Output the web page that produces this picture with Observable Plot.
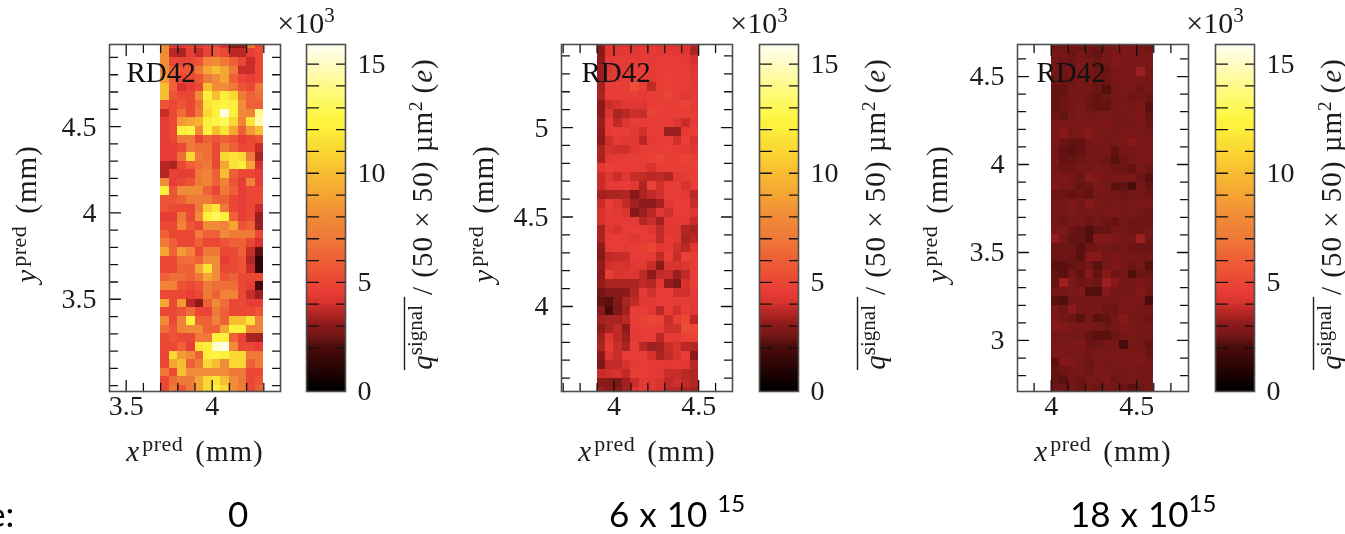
<!DOCTYPE html>
<html><head><meta charset="utf-8">
<script src="https://cdn.jsdelivr.net/npm/d3@7"></script>
<script src="https://cdn.jsdelivr.net/npm/@observablehq/plot@0.6"></script>
<style>
html,body{margin:0;padding:0;background:#fff;width:1345px;height:534px;overflow:hidden}
#page{position:relative;width:1345px;height:534px;overflow:hidden;filter:blur(0.7px)}
#page svg{position:absolute;top:0;overflow:visible;background:transparent}
.fl{position:absolute;font-family:Lato,"Noto Sans",sans-serif;font-size:35px;word-spacing:1px;color:#000;white-space:nowrap;line-height:40px;top:493px}
.fl sup{font-size:24px;line-height:0;position:relative;top:-2px;vertical-align:super}
</style></head><body><div id="page"></div>
<script>
const fluence = ["0", "6 x 10 <sup>15</sup>", "18 x 10<sup>15</sup>"];
const colorStops = [0,1,2,2.5,3,4,4.5,5,6,7,8,9,10,11,12,12.5,13,14,15,16];
const colorRange = ["#000000","#280303","#4b0c0c","#741716","#8c1a1a","#d7322d","#e83c37","#ea4834","#ee6036","#ef7a37","#f08c37","#f5a532","#f8be32","#fad732","#fcf03c","#fdf541","#fef85a","#fffa8c","#fffcc8","#fffffa"];
const colorTicks = [0,5,10,15];
const colorMinor = [1,2,3,4,5,6,7,8,9,10,11,12,13,14,15];

const panel1Values = [
[8,4.5,4.5,5,4.5,5,5,4,3,3,7,5],
[8,3.6,3.4,4.5,3.8,4.8,5.5,5,3.6,3.6,4.5,5],
[8,5,4.8,5,5.5,7.5,8,7,6,5,3.8,5],
[8,6,5.5,5.5,7,9,10,9,7,3.8,3.8,5],
[8.5,6,5,5,5.5,7,8,9,6,5,4.5,5],
[10,6,4,4.5,5,10,8,8,7,5.5,5,7],
[10,5.5,5,5,8,12,10,12,11,7,6,6.5],
[5.5,5,5.5,5,6.5,11.5,12,12.5,12,8,6,6],
[3.8,5,6.5,5,7,11,12,15.5,12,8,7.5,14],
[4.5,5,8.5,9,9.5,12,12.5,13,11,7.5,11.5,14.5],
[4.5,5,12,12.5,8,12,10,11.5,9,6,8.5,10],
[4.5,5,7,7,4.8,6,5.5,6,5.5,4.5,5,5.5],
[4.5,4.5,5,7,6.5,6.5,5,7,6,5,5,3.8],
[4.5,4.5,6.5,11,7,6.5,5,11,11.5,11,7,3.4],
[3.6,3.4,5,6,6.5,7,5,9,11.5,12,9,4],
[3.5,4.8,4.5,4.5,7,7.5,6,10,6,5,5,4.5],
[8,4.5,5,5.5,7,7.5,6,7.5,5.5,4.5,7.5,4.5],
[12,5.5,8,8,8,6,4.8,7,6,4.5,5,5],
[5.5,5.5,6,7,7,7,6,6,5,4.5,5,5],
[5.5,5,5,5,7,10.5,11.5,7,5,4.5,5,3.8],
[4.5,4.5,7,5,8,12,13,12,6,4.5,5,3.2],
[5,5,7.5,5.5,5,8,8,7.5,9,5.5,6,3.2],
[6,5,5,5,7,6,6,8,7,7,7,5],
[7,6,5,5,6,5,5,5.5,6,6,5,4],
[9,6,8.5,7.5,5,7,7,5,5,6,3.8,2.2],
[5,5,6.5,6.5,6,8,8,4.5,5,5.5,3.5,1.2],
[5,5,6,6,9,11.5,8,5,5,5.5,3.8,1.3],
[6,6.5,6.5,6,7,9,8,5.5,6,5,5,5],
[7.5,7.5,5.5,5,5.5,7,6.5,6.5,6.5,5,4.5,1.8],
[5,5,5,4.5,5,7,6,7.5,7.5,5,3.8,3.2],
[9,5,8.5,3.6,3,6,8,6.5,5,5,4.5,4.5],
[5,5,5.5,6.5,5,4.8,7,6,5,5,5,5.5],
[8,5,7.5,12,6,6,7.5,6,10,10,11.5,7.5],
[6.5,5.5,7.5,8,8,6,6,9,12,12,7.5,7.5],
[5,5.5,5,5,7,7,12,12,6,4.8,3.4,3.3],
[5,5,6,4.5,11.5,12,15,15.5,8,5,5,4.5],
[4.8,11,8.5,8,6,12,12.5,12,11,11,7,7],
[5,9,10,6,7,11,10,8,11,11,6,7],
[7,5,10,8,8,8,8,8,7,7,5,5],
[5,6.5,7,7,9,11,11.5,10,8,7,5,5.5],
[5,7,5.5,7,9,11,12,11,8,7,5,6]];

const panel2Values = [
[3,4.2,4.2,4.2,4.2,4.2,4.2,4.2,4.2,4.2,4.2,3.5],
[3,4.2,4.3,4.3,4.3,4.4,4.4,4.3,4.3,4.3,4.2,3.4],
[3,4.4,4.5,4.4,4.4,4.4,4.4,4.5,4.5,4.5,4.4,4],
[3.2,4.2,4.4,4.4,4.5,4.5,4.4,4.5,4.5,4.5,4.5,4.2],
[3.2,4.3,4.3,4.4,4.6,4.7,4.4,4.5,4.6,4.5,4.5,4.3],
[3.3,4.5,4.6,4.5,5.3,4.5,3.7,4.6,4.7,4.5,4.5,4.4],
[3.4,4.5,4.6,4.5,4.5,4.4,4.5,4.5,4.9,4.5,4.3,4.4],
[3,3.8,4,4.3,4.3,4.2,4.6,4.6,4.5,4.5,4.8,4.4],
[3,4.2,3.4,3.6,3.9,3.8,4.8,4.6,4.5,4.6,4.6,4.5],
[3.2,4.4,3.7,4.2,4.5,4.4,4.5,4.5,4.5,4.2,3.8,4.4],
[3.1,4.4,4.6,4.5,4.3,3.9,4.5,4.5,3.2,3.2,4.4,4.5],
[3,3.9,4.4,4.3,4.3,3.6,4.4,4.5,4.5,3.9,4.6,4.1],
[3.4,4,3.9,3.9,4.3,4.5,4.6,4.5,4.6,4.4,4.4,4.3],
[3.4,4.3,4.4,4.5,4.5,4.5,4.7,4.9,4.5,4.6,4.8,4.6],
[4.3,4.6,4.5,4.5,4.5,4.4,4,4.5,4.6,4.5,4.6,4.6],
[3.8,4.2,3.8,4.3,3.8,3.7,3.6,3.7,3.5,4.3,4.4,4.5],
[3.8,4.4,4.4,4.5,4.3,3.4,4.7,3.9,4.5,4.5,4,4.5],
[3.3,3.4,3.4,3.5,2.9,3.4,3.7,3.9,4.5,4.5,4.3,3.6],
[3.8,4.5,4.2,3.7,3.3,3,3,3.3,4.3,4.5,4.5,3.8],
[4,4.4,4.3,4.1,2.9,3.2,3.6,4.3,3.9,4.5,4.5,4.2],
[4,4.4,4.4,4.4,4.4,3.5,3.8,3.3,4.3,4.4,4.3,3.8],
[3.4,4.3,4,4.4,4.5,4.5,4.2,3.7,4.3,4.3,3.5,3.4],
[3.4,4.4,4.4,4.4,4.2,4.4,4.4,3.7,4.4,4.3,3.4,3.6],
[3,4.4,4.5,4.4,4.5,4.6,4.9,4.3,4.4,3.9,3.6,4.2],
[2.9,3.7,3.8,3.8,4.4,4.5,4.4,3.7,4.6,3.8,4.7,4.6],
[3.1,3.9,4,4,4.3,4.3,3.8,3,4.1,4.1,4.2,4.5],
[3,4.6,4.1,4.2,4.2,3.7,3,3.7,3.8,3.2,3.7,4.5],
[3.1,3.4,3.4,3.4,3.4,3.7,3.5,4.3,3.1,2.7,4,4.5],
[2.5,2.9,2.9,3,3.5,4.4,3.9,4.5,4.5,3.9,3.9,4.4],
[2.3,2.2,2.8,3.4,3.7,4.3,4.3,4.5,4.5,4.4,4.5,4.4],
[2.9,1.9,2.7,3.3,4.5,4.5,4.3,3.6,4.5,3.9,4.5,4.3],
[3.3,3.4,3.4,3.6,4.5,4.6,5,4.7,3.8,4.6,5,3.6],
[3,3.4,3.7,3,4.4,4.5,4.6,4.5,3.9,3.9,5.2,5],
[3.3,4.2,3.7,3.2,4.4,4.4,4.5,3.6,4.4,4.4,4.6,4.7],
[3.4,4.4,3.8,3.4,4.5,3.6,3.2,3.3,3.8,4.1,3.6,3.5],
[3,4.2,3.8,4.4,4.5,4.5,4,3.4,3.7,4,4.5,3],
[2.7,3.7,3.7,4,4.4,4.5,4.4,4.4,4.3,4.4,4.3,3.6],
[3.8,3.9,4,3.7,4.5,4.5,4.4,4.3,3.8,3.8,3.6,3.5],
[3,2.9,2.7,3.3,3.8,4.4,4.3,4.1,3.7,3.9,3.7,3.5],
[3.2,3,2.9,3.3,4.2,4.4,4.2,4,3.6,3.6,3.4,3.3]];

const panel3Values = [
[2.4,2.5,2.5,2.4,2.4,2.4,2.5,2.6,2.6,2.6,2.5,2.4],
[2.5,2.5,2.4,2.5,2.4,2.3,2.5,2.7,2.7,2.6,2.6,2.5],
[2.5,2.4,2.4,2.6,2.5,2.4,2.5,2.8,2.6,2.6,2.6,2.6],
[2.5,2.4,2.5,2.6,2.5,2.4,2.4,2.6,2.7,2.6,3.2,2.6],
[2.4,2.4,2.4,2.5,2.5,2.4,2.4,2.5,2.6,2.6,2.6,2.5],
[2.3,2.3,2.5,2.5,2.5,2.4,2.1,2.5,2.6,2.5,2.4,2.5],
[2.3,2.4,2.5,2.5,2.4,2.3,2.4,2.5,2.5,2.4,2.5,2.4],
[2.3,2.4,2.5,2.6,2.4,2.3,2.3,2.5,2.6,2.5,2.7,2.2],
[2.4,2.3,2.5,2.6,2.5,2.6,2.6,2.5,2.5,2.6,2.7,2.3],
[2.6,2.6,2.6,2.6,2.7,2.7,2.7,2.5,2.5,2.5,2.7,2.4],
[2.6,2.9,2.5,2.6,2.9,2.6,2.6,2.5,2.6,2.6,2.6,2.5],
[2.6,2.4,2.3,2.3,2.5,2.6,2.5,2.6,2.6,2.9,2.6,2.6],
[2.5,2.3,2.2,2.3,2.5,2.5,2.6,2.3,2.5,2.6,2.6,2.6],
[2.6,2.3,2.3,2.4,2.5,2.5,2.4,2.2,2.4,2.5,2.6,2.6],
[2.5,2.4,2.4,2.5,2.5,2.6,2.5,2.4,2.4,2.3,2.5,2.4],
[2.6,2.7,2.5,2.4,2.9,2.7,2.5,2.6,2.6,2.6,2.4,2.2],
[2.8,2.5,2.5,2.3,2.4,2.6,2.5,2.2,2.3,1.9,2.5,2.3],
[2.4,2.4,2.3,2.4,2.3,2.5,2.5,2.5,2.4,2.5,2.5,2.4],
[2.5,2.5,2.6,2.5,2.9,2.6,2.5,2.6,2.5,2.6,2.6,2.6],
[2.5,2.5,2.6,2.5,2.6,2.5,2.6,2.6,2.5,2.6,2.5,2.4],
[2.5,2.4,2.5,2.5,2.4,2.5,2.4,2.3,2.5,2.4,2.4,2.4],
[2.6,2.6,2.4,2.3,2.1,2.3,2.3,2.5,2.5,2.4,2.4,2.5],
[3.1,2.5,2.3,2.3,2.1,2.8,2.8,2.6,2.5,2.5,3.2,2.5],
[2.4,2.4,2.4,2.2,2.4,2.5,2.5,2.4,2.5,2.4,2.4,2.4],
[2.4,2.4,2.4,2.2,2.9,2.9,2.5,2.7,2.5,2.5,2.5,2.5],
[2.2,2.2,2.3,2.4,2.5,2.2,2.5,2.8,2.5,2.4,2.5,2.2],
[2.3,2.2,2.5,2.3,2.9,2.3,2.9,2.4,2.5,2.1,2.4,2.4],
[2.3,3.2,2.6,2.4,2.5,2.4,3.2,2.9,2.5,2.5,2.7,2.5],
[2.5,2.5,2.7,2.7,2.1,2.1,2.8,2.5,2.5,2.5,2.8,2.5],
[2.2,2.1,2.5,2.5,2.5,2.5,2.5,2.5,2.7,2.6,2.6,2],
[2.6,2.4,3,2.5,2.5,2.5,2.4,2.4,2.6,2.6,2.5,2.5],
[2.7,2.5,2.4,2.2,2.5,2.2,2.3,2.5,2.9,2.5,2.5,2.4],
[2.9,2.8,2.6,2.5,2.6,2.5,2.4,2.5,2.7,2.6,2.5,2.5],
[2.5,2.5,2.5,2.5,2.3,2.2,2.2,2.4,2.5,2.6,2.5,2.5],
[2.6,2.6,2.6,2.7,2.4,2.4,2.5,2.5,1.9,2.5,2.5,2.3],
[2.6,2.6,2.6,2.6,2.5,2.6,2.6,2.6,2.6,2.6,2.6,2.4],
[2.2,2.8,2.8,2.5,2.4,2.6,2.5,2.6,2.6,2.6,2.7,2.5],
[2.3,2.4,2.5,2.5,2.4,2.6,2.6,2.5,2.5,2.6,2.5,2.5],
[2.3,2.2,2.5,2.4,2.6,2.5,2.6,2.4,2.5,2.6,2.5,2.5],
[2.4,2.4,2.5,2.4,2.5,2.4,2.5,2.5,2.4,2.2,2.4,2.5]];

const panels = [
 {values:panel1Values,x0:3.7,yTop:5.0,xd:[3.403,4.397],yd:[2.966,4.975],xTicks:[3.5,4],yTicks:[3.5,4,4.5],
  xMinor:[3.5,3.6,3.7,3.8,3.9,4,4.1,4.2,4.3],yMinor:[3,3.1,3.2,3.3,3.4,3.5,3.6,3.7,3.8,3.9,4,4.1,4.2,4.3,4.4,4.5,4.6,4.7,4.8,4.9],
  left:109,bar:306,yLab:35,rd:126},
 {values:panel2Values,x0:3.9,yTop:5.5,xd:[3.69,4.70],yd:[3.525,5.464],xTicks:[4,4.5],yTicks:[4,4.5,5],
  xMinor:[3.7,3.8,3.9,4,4.1,4.2,4.3,4.4,4.5,4.6],yMinor:[3.6,3.7,3.8,3.9,4,4.1,4.2,4.3,4.4,4.5,4.6,4.7,4.8,4.9,5,5.1,5.2,5.3,5.4],
  left:561,bar:759,yLab:492,rd:581},
 {values:panel3Values,x0:4.0,yTop:4.7,xd:[3.803,4.803],yd:[2.71,4.682],xTicks:[4,4.5],yTicks:[3,3.5,4,4.5],
  xMinor:[3.9,4,4.1,4.2,4.3,4.4,4.5,4.6,4.7],yMinor:[2.8,2.9,3,3.1,3.2,3.3,3.4,3.5,3.6,3.7,3.8,3.9,4,4.1,4.2,4.3,4.4,4.5,4.6],
  left:1017,bar:1215,yLab:946,rd:1036}
];
const tickShape = {draw(c,l){c.moveTo(0,0);c.lineTo(0,-l);},r:0};
const serif = '"Liberation Serif","DejaVu Serif",serif';
const rich = {
 "xlab":'<tspan font-style="italic">x</tspan><tspan dx="3" dy="-10" font-size="22" letter-spacing="0.5">pred</tspan><tspan dx="12" dy="10" letter-spacing="1">(mm)</tspan>',
 "ylab":'<tspan font-style="italic">y</tspan><tspan dx="3" dy="-10" font-size="22" letter-spacing="0.5">pred</tspan><tspan dx="12" dy="10" letter-spacing="1">(mm)</tspan>',
 "qlab":'<tspan font-style="italic">q</tspan><tspan dy="-10" font-size="21">signal</tspan><tspan dy="10" dx="10" letter-spacing="1">/ (50 × 50) µm</tspan><tspan dy="-10" font-size="19">2</tspan><tspan dy="10" dx="8" letter-spacing="1">(<tspan font-style="italic">e</tspan>)</tspan>',
 "x103":'×10<tspan dy="-11" font-size="21">3</tspan>'
};
const page = document.getElementById("page");
function mount(svg,left){
  for(const t of svg.querySelectorAll("text")){const k=t.textContent.trim();if(rich[k])t.innerHTML=rich[k];}
  svg.style.left=left+"px";page.appendChild(svg);
}
const colorScale={type:"linear",domain:colorStops,range:colorRange,clamp:true};
const frameColor="#4f4f4f",tickColor="#111",ink="#1c1c1c";
for(const p of panels){
  const cells=[];
  p.values.forEach((row,r)=>row.forEach((v,c)=>cells.push({x1:p.x0+c*0.05,x2:p.x0+(c+1)*0.05,y1:p.yTop-r*0.05,y2:p.yTop-(r+1)*0.05,v})));
  const ml=100,w=171+ml+5,h=534;
  const vec=(data,o,len)=>Plot.vector(data,{...o,length:d=>len(d),shape:tickShape,anchor:"start",stroke:tickColor,strokeWidth:1.3,clip:false});
  const maj=(ts)=>(d)=>ts.includes(d)?11:8;
  const heat=Plot.plot({width:w,height:h,marginLeft:ml,marginRight:5,marginTop:44,marginBottom:143,
    x:{domain:p.xd},y:{domain:p.yd},color:colorScale,length:{type:"identity"},
    style:{fontFamily:serif,fontSize:"28px",color:ink,overflow:"visible"},
    marks:[
     Plot.rect(cells,{x1:"x1",x2:"x2",y1:"y1",y2:"y2",fill:"v",clip:"frame",shapeRendering:"crispEdges"}),
     vec(p.xMinor,{x:d=>d,frameAnchor:"bottom",rotate:0},maj(p.xTicks)),
     vec(p.xMinor,{x:d=>d,frameAnchor:"top",rotate:180},maj(p.xTicks)),
     vec(p.yMinor,{y:d=>d,frameAnchor:"left",rotate:90},maj(p.yTicks)),
     vec(p.yMinor,{y:d=>d,frameAnchor:"right",rotate:-90},maj(p.yTicks)),
     Plot.frame({stroke:frameColor,strokeWidth:1.6}),
     Plot.axisX({ticks:p.xTicks,tickFormat:d=>String(d),tickSize:0,tickPadding:4,label:null,fontSize:28,anchor:"bottom"}),
     Plot.axisY({ticks:p.yTicks,tickFormat:d=>String(d),tickSize:0,tickPadding:13,label:null,fontSize:28,anchor:"left"}),
     Plot.text(["RD42"],{frameAnchor:"top-left",dx:p.rd-p.left,dy:17,text:d=>d,fontSize:29,textAnchor:"start",fill:"#111"}),
     Plot.text(["xlab"],{frameAnchor:"bottom",dy:69,text:d=>d,fontSize:29,fill:ink,lineAnchor:"bottom"}),
     Plot.text(["ylab"],{frameAnchor:"left",dx:p.yLab-p.left,dy:-4,rotate:-90,text:d=>d,fontSize:29,fill:ink,lineAnchor:"bottom",textAnchor:"middle"})
    ]});
  mount(heat,p.left-ml);
  const ramp=d3.range(0,159).map(i=>i/10);
  const bl=35,br=110;
  const bar=Plot.plot({width:bl+39+br,height:h,marginLeft:bl,marginRight:br,marginTop:44,marginBottom:143,
    x:{domain:[0,1],axis:null},y:{domain:[0,15.9]},color:colorScale,length:{type:"identity"},
    style:{fontFamily:serif,fontSize:"28px",color:ink,overflow:"visible"},
    marks:[
     Plot.rect(ramp,{x1:0,x2:1,y1:d=>d,y2:d=>d+0.1,fill:d=>d,shapeRendering:"crispEdges"}),
     vec(colorMinor,{y:d=>d,frameAnchor:"left",rotate:90},()=>12),
     vec(colorMinor,{y:d=>d,frameAnchor:"right",rotate:-90},()=>9),
     Plot.frame({stroke:frameColor,strokeWidth:1.6}),
     Plot.axisY({ticks:colorTicks,tickSize:0,tickPadding:12,label:null,fontSize:28,anchor:"right"}),
     Plot.text(["x103"],{frameAnchor:"top",dx:-20,dy:-12,text:d=>d,fontSize:30,fill:ink,lineAnchor:"bottom"}),
     Plot.text(["qlab"],{frameAnchor:"right",dx:86,dy:-4,rotate:-90,text:d=>d,fontSize:29,fill:ink,lineAnchor:"bottom",textAnchor:"middle"}),
     Plot.vector([0],{frameAnchor:"bottom-right",dx:59,dy:-22,length:72,rotate:0,shape:tickShape,anchor:"start",stroke:ink,strokeWidth:1.4})
    ]});
  mount(bar,p.bar-bl);
}
const flX=[228,609,1070];
fluence.forEach((t,i)=>{const d=document.createElement("div");d.className="fl";d.style.left=flX[i]+"px";d.innerHTML=t;page.appendChild(d);});
const e=document.createElement("div");e.className="fl";e.style.left="-13px";e.textContent="e:";page.appendChild(e);
</script></body></html>
